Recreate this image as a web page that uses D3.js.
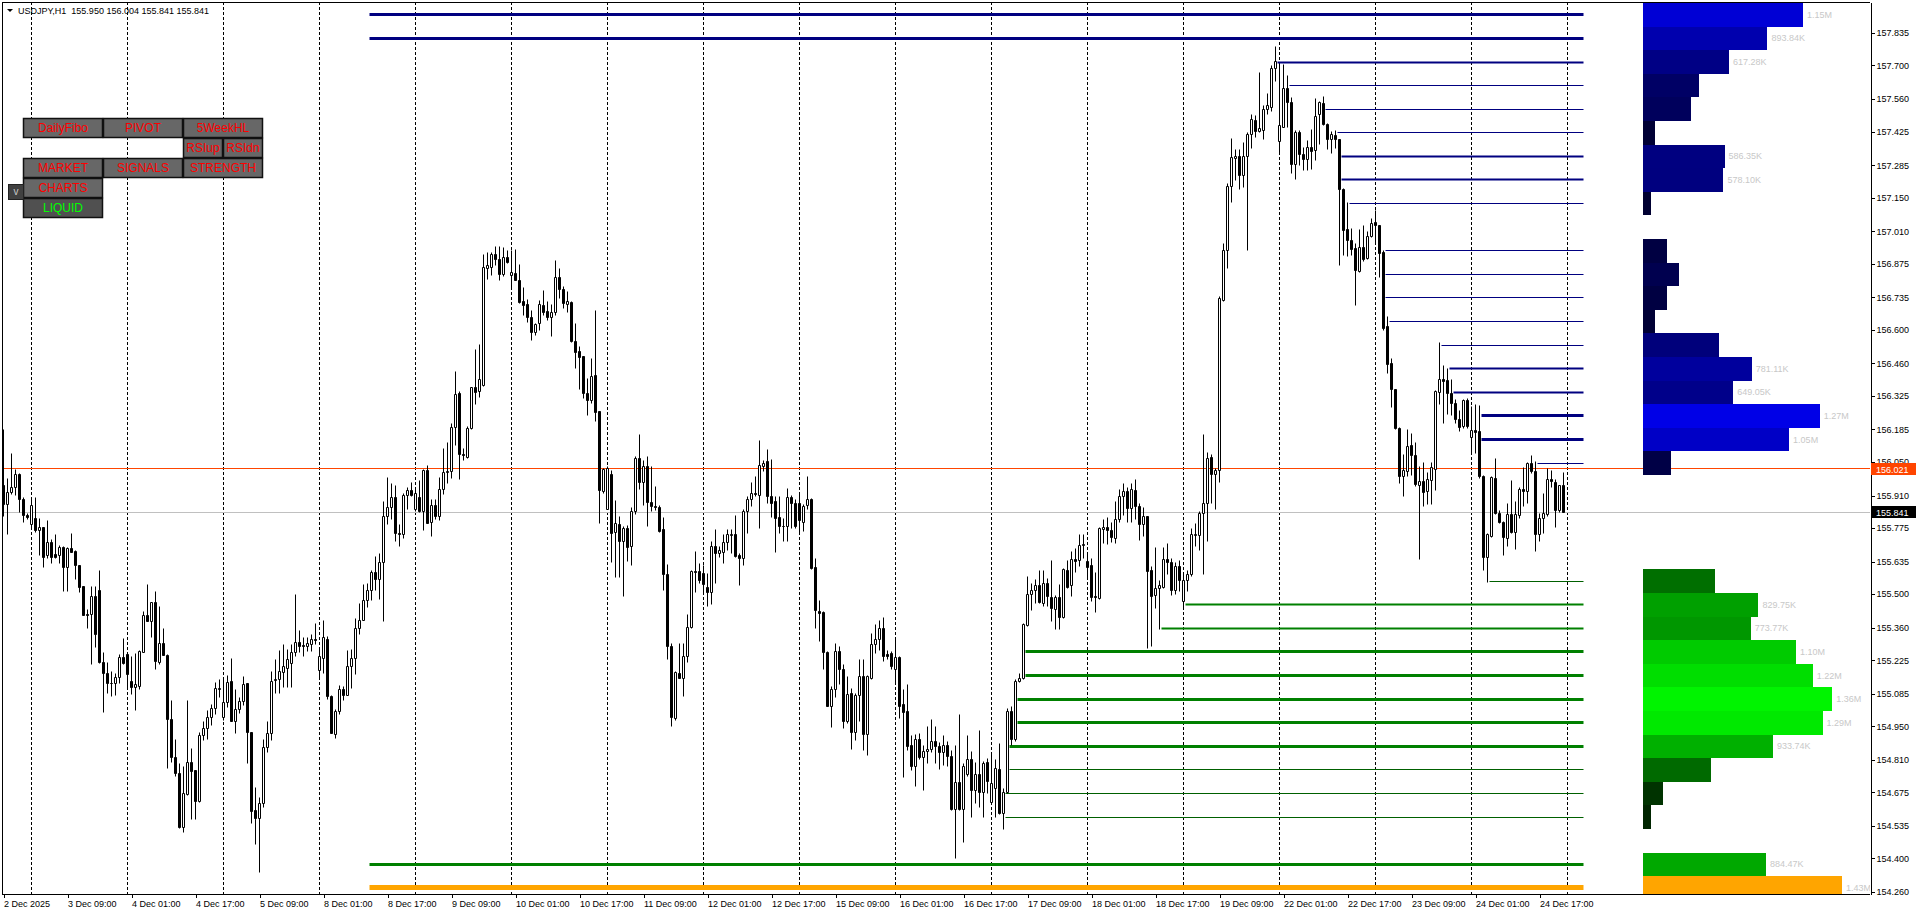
<!DOCTYPE html>
<html lang="en">
<head>
<meta charset="UTF-8">
<title>USDJPY,H1</title>
<script src="https://d3js.org/d3.v7.min.js"></script>
<style>
  body { margin: 0; background: #fff; }
  svg { display: block; font-family: "Liberation Sans", Arial, sans-serif; }
  .axis text { font-size: 9px; fill: #000; }
  .axis line, .axis path { stroke: #000; shape-rendering: crispEdges; }
</style>
</head>
<body>
<svg width="1916" height="915"></svg>
<script>
// ---- data ----
const symbol = "USDJPY", period = "H1";
const refPrice = 156.021;   // orange-red line
const bidPrice = 155.841;   // grey line (last close)

const priceTicks = [157.835, 157.700, 157.560, 157.425, 157.285, 157.150, 157.010, 156.875,
  156.735, 156.600, 156.460, 156.325, 156.185, 156.050, 155.910, 155.775, 155.635, 155.500,
  155.360, 155.225, 155.085, 154.950, 154.810, 154.675, 154.535, 154.400, 154.260];

const timeLabels = ["2 Dec 2025", "3 Dec 09:00", "4 Dec 01:00", "4 Dec 17:00", "5 Dec 09:00",
  "8 Dec 01:00", "8 Dec 17:00", "9 Dec 09:00", "10 Dec 01:00", "10 Dec 17:00", "11 Dec 09:00",
  "12 Dec 01:00", "12 Dec 17:00", "15 Dec 09:00", "16 Dec 01:00", "16 Dec 17:00", "17 Dec 09:00",
  "18 Dec 01:00", "18 Dec 17:00", "19 Dec 09:00", "22 Dec 01:00", "22 Dec 17:00", "23 Dec 09:00",
  "24 Dec 01:00", "24 Dec 17:00"];

// H1 bars [open, high, low, close], first bar 2 Dec 2025 17:00
const bars = [
[155.954,156.183,155.821,155.871],[155.871,155.979,155.746,155.921],[155.921,156.087,155.913,155.942],
[155.942,156.020,155.909,155.996],[155.996,156.003,155.838,155.892],[155.892,155.900,155.800,155.829],
[155.829,155.835,155.810,155.820],
// 3 Dec
[155.788,155.892,155.767,155.867],[155.813,155.904,155.758,155.763],[155.763,155.813,155.659,155.779],
[155.779,155.779,155.609,155.654],[155.659,155.808,155.650,155.713],[155.713,155.729,155.629,155.654],
[155.663,155.750,155.650,155.654],[155.659,155.704,155.629,155.696],[155.692,155.700,155.509,155.609],
[155.609,155.692,155.509,155.688],[155.688,155.754,155.675,155.675],[155.679,155.683,155.559,155.617],
[155.621,155.621,155.505,155.526],[155.530,155.530,155.409,155.413],[155.417,155.434,155.355,155.413],
[155.417,155.530,155.209,155.492],[155.492,155.530,155.276,155.330],[155.513,155.600,155.213,155.217],
[155.217,155.255,155.009,155.171],[155.171,155.217,155.088,155.130],[155.130,155.176,155.072,155.130],
[155.130,155.168,155.076,155.151],[155.151,155.247,155.126,155.238],[155.238,155.317,155.209,155.213],
// 4 Dec
[155.250,155.255,155.109,155.167],[155.138,155.242,155.084,155.113],[155.113,155.251,155.017,155.122],
[155.117,155.267,155.101,155.263],[155.259,155.426,155.255,155.413],[155.413,155.542,155.384,155.388],
[155.388,155.467,155.321,155.463],[155.463,155.509,155.188,155.221],[155.217,155.450,155.205,155.296],
[155.296,155.355,155.246,155.246],[155.246,155.250,154.776,154.980],[154.980,155.059,154.798,154.818],
[154.822,154.893,154.739,154.755],[154.755,154.797,154.526,154.530],[154.530,154.781,154.510,154.672],
[154.664,155.059,154.660,154.801],[154.801,154.859,154.560,154.760],[154.768,154.768,154.560,154.635],
[154.635,154.922,154.631,154.910],[154.910,154.968,154.889,154.940],[154.940,155.017,154.897,154.988],
[154.988,155.042,154.955,155.022],[155.022,155.134,154.997,155.109],[155.105,155.143,155.068,155.109],
// 5 Dec
[154.988,155.143,154.976,155.047],[155.047,155.163,155.030,155.134],[155.138,155.234,154.968,154.968],
[154.968,155.101,154.918,155.018],[155.018,155.068,155.005,155.055],[155.055,155.159,155.038,155.122],
[155.126,155.126,154.797,154.922],[154.922,154.922,154.547,154.597],[154.601,154.697,154.460,154.568],
[154.568,154.655,154.343,154.630],[154.630,154.893,154.610,154.860],[154.860,154.968,154.840,154.918],
[154.918,155.176,154.890,155.138],[155.140,155.226,155.085,155.145],[155.145,155.267,155.085,155.176],
[155.172,155.290,155.110,155.200],[155.190,155.270,155.113,155.226],[155.210,155.290,155.113,155.255],
[155.255,155.500,155.240,155.300],[155.300,155.350,155.255,155.284],[155.286,155.320,155.240,155.282],
[155.280,155.320,155.260,155.293],[155.290,155.330,155.260,155.310],[155.310,155.378,155.290,155.308],
// 8 Dec
[155.184,155.270,155.155,155.240],[155.230,155.390,155.170,155.320],[155.313,155.325,155.060,155.075],
[155.075,155.080,154.918,154.920],[154.914,155.018,154.900,155.010],[155.010,155.120,155.000,155.105],
[155.105,155.115,155.057,155.080],[155.080,155.267,155.076,155.200],[155.200,155.270,155.106,155.230],
[155.230,155.397,155.167,155.355],[155.355,155.460,155.330,155.390],[155.390,155.540,155.390,155.475],
[155.475,155.544,155.443,155.517],[155.517,155.600,155.475,155.588],[155.588,155.658,155.513,155.560],
[155.560,155.667,155.477,155.630],[155.630,155.885,155.386,155.825],[155.825,155.985,155.790,155.860],
[155.860,155.960,155.810,155.900],[155.900,155.950,155.720,155.754],[155.754,155.790,155.700,155.750],
[155.750,155.920,155.730,155.912],[155.912,155.943,155.850,155.933],[155.933,155.965,155.908,155.912],
// 9 Dec
[155.850,155.943,155.845,155.917],[155.900,155.973,155.838,155.845],[155.845,156.020,155.763,156.013],
[156.013,156.037,155.792,155.792],[155.798,155.895,155.740,155.868],[155.868,155.895,155.810,155.825],
[155.825,155.985,155.806,155.937],[155.937,156.107,155.915,156.008],[156.008,156.130,155.960,156.010],
[156.010,156.210,155.980,156.192],[156.192,156.428,156.118,156.332],[156.335,156.345,155.975,156.079],
[156.079,156.107,156.055,156.075],[156.069,156.196,156.066,156.190],[156.190,156.358,156.183,156.358],
[156.358,156.516,156.288,156.340],[156.345,156.539,156.318,156.393],[156.370,156.914,156.363,156.860],
[156.854,156.920,156.808,156.866],[156.858,156.920,156.826,156.914],[156.914,156.945,156.866,156.892],
[156.892,156.948,156.805,156.831],[156.831,156.941,156.822,156.900],[156.899,156.930,156.875,156.878],
// 10 Dec
[156.826,156.930,156.774,156.840],[156.836,156.936,156.805,156.805],[156.805,156.872,156.708,156.714],
[156.717,156.774,156.660,156.703],[156.707,156.726,156.630,156.650],[156.650,156.682,156.554,156.587],
[156.587,156.627,156.578,156.622],[156.627,156.720,156.596,156.706],[156.703,156.765,156.661,156.671],
[156.675,156.716,156.640,156.650],[156.650,156.706,156.574,156.673],[156.673,156.890,156.661,156.818],
[156.818,156.856,156.731,156.768],[156.768,156.779,156.690,156.710],[156.707,156.758,156.670,156.717],
[156.714,156.717,156.546,156.550],[156.553,156.627,156.440,156.504],[156.509,156.532,156.350,156.485],
[156.488,156.490,156.315,156.333],[156.335,156.398,156.245,156.305],[156.305,156.480,156.294,156.405],
[156.408,156.679,156.217,156.255],[156.258,156.258,155.795,155.930],[155.926,156.023,155.920,156.019],
// 11 Dec
[155.853,156.030,155.850,156.023],[155.996,156.016,155.630,155.753],[155.755,155.888,155.570,155.794],
[155.790,155.825,155.570,155.718],[155.718,155.783,155.490,155.774],[155.774,155.787,155.635,155.695],
[155.697,155.860,155.617,155.843],[155.843,156.072,155.833,156.065],[156.065,156.166,155.936,155.963],
[155.963,156.058,155.867,156.030],[156.033,156.072,155.780,155.880],[155.882,156.030,155.843,155.864],
[155.864,155.947,155.847,155.862],[155.862,155.867,155.755,155.762],[155.767,155.820,155.517,155.582],
[155.582,155.625,155.229,155.281],[155.284,155.295,154.948,154.986],[154.983,155.180,154.976,155.174],
[155.170,155.293,155.150,155.150],[155.150,155.295,155.073,155.242],[155.240,155.417,155.214,155.362],
[155.362,155.600,155.358,155.596],[155.596,155.676,155.506,155.589],[155.593,155.628,155.545,155.558],
// 12 Dec
[155.586,155.617,155.503,155.538],[155.526,155.586,155.450,155.505],[155.505,155.718,155.455,155.700],
[155.700,155.770,155.545,155.670],[155.670,155.697,155.653,155.680],[155.672,155.749,155.628,155.714],
[155.714,155.767,155.683,155.746],[155.745,155.767,155.670,155.746],[155.746,155.829,155.653,155.656],
[155.659,155.670,155.534,155.649],[155.649,155.850,155.617,155.843],[155.843,155.908,155.753,155.892],
[155.892,155.963,155.864,155.917],[155.917,155.991,155.908,155.915],[155.912,156.138,155.774,156.037],
[156.033,156.058,156.010,156.044],[156.051,156.102,155.878,155.905],[155.905,156.061,155.820,155.878],
[155.884,155.905,155.672,155.815],[155.820,155.905,155.753,155.780],[155.783,155.815,155.718,155.783],
[155.783,155.940,155.718,155.903],[155.903,155.912,155.774,155.878],[155.878,155.894,155.774,155.780],
// 15 Dec
[155.875,155.922,155.750,155.805],[155.797,155.871,155.760,155.864],[155.867,155.991,155.850,155.894],
[155.894,155.898,155.603,155.607],[155.611,155.649,155.358,155.431],[155.427,155.475,155.302,155.420],
[155.422,155.427,155.187,155.256],[155.258,155.260,155.031,155.034],[155.034,155.115,154.946,155.101],
[155.101,155.295,155.070,155.260],[155.260,155.281,155.122,155.187],[155.187,155.205,154.942,154.969],
[154.969,155.156,154.962,155.083],[155.087,155.108,154.854,154.923],[154.923,155.087,154.890,155.080],
[155.080,155.226,154.969,155.156],[155.156,155.226,154.851,154.914],[154.914,155.163,154.830,155.156],
[155.150,155.337,155.146,155.292],[155.292,155.372,155.253,155.312],[155.310,155.392,155.267,155.358],
[155.358,155.403,155.219,155.240],[155.249,155.267,155.226,155.242],[155.254,155.260,155.187,155.200],
// 16 Dec
[155.187,155.316,155.131,155.237],[155.237,155.242,154.983,155.034],[155.039,155.104,154.738,155.007],
[155.011,155.122,154.851,154.865],[154.868,154.910,154.765,154.782],[154.782,154.914,154.701,154.896],
[154.896,154.921,154.813,154.821],[154.821,154.868,154.682,154.844],[154.844,154.951,154.793,154.854],
[154.854,154.979,154.840,154.886],[154.886,154.948,154.796,154.865],[154.865,154.882,154.771,154.840],
[154.840,154.910,154.785,154.872],[154.872,154.886,154.782,154.823],[154.823,154.851,154.601,154.605],
[154.605,154.872,154.401,154.715],[154.715,155.001,154.599,154.602],[154.602,154.796,154.465,154.782],
[154.751,154.910,154.743,154.813],[154.813,154.844,154.571,154.682],[154.682,154.798,154.629,154.751],
[154.751,154.934,154.613,154.674],[154.674,154.803,154.571,154.796],[154.798,154.817,154.671,154.719],
// 17 Dec
[154.632,154.838,154.629,154.713],[154.692,154.813,154.571,154.775],[154.771,154.879,154.581,154.588],
[154.588,154.692,154.522,154.674],[154.674,155.025,154.671,155.011],[155.011,155.031,154.868,154.893],
[154.893,155.143,154.886,155.136],[155.136,155.170,155.132,155.150],[155.150,155.378,155.146,155.372],
[155.368,155.572,155.364,155.500],[155.500,155.545,155.431,155.517],[155.514,155.561,155.459,155.534],
[155.534,155.600,155.459,155.464],[155.459,155.597,155.450,155.545],[155.545,155.566,155.450,155.489],
[155.487,155.640,155.388,155.439],[155.436,155.495,155.354,155.487],[155.487,155.540,155.354,155.402],
[155.402,155.605,155.398,155.602],[155.597,155.640,155.524,155.529],[155.534,155.677,155.490,155.643],
[155.643,155.690,155.588,155.637],[155.640,155.750,155.614,155.702],[155.701,155.750,155.648,155.706],
// 18 Dec
[155.634,155.665,155.571,155.609],[155.617,155.648,155.470,155.487],[155.490,155.588,155.422,155.485],
[155.481,155.779,155.478,155.772],[155.768,155.812,155.710,155.779],[155.779,155.817,155.707,155.765],
[155.765,155.800,155.716,155.737],[155.733,155.886,155.710,155.812],[155.812,155.937,155.800,155.908],
[155.908,155.962,155.826,155.925],[155.925,155.945,155.800,155.857],[155.857,155.962,155.800,155.937],
[155.932,155.976,155.809,155.864],[155.864,155.877,155.724,155.789],[155.789,155.860,155.741,155.823],
[155.821,155.823,155.274,155.592],[155.597,155.614,155.283,155.490],[155.495,155.693,155.439,155.524],
[155.524,155.555,155.354,155.534],[155.529,155.693,155.524,155.643],[155.643,155.711,155.580,155.631],
[155.631,155.648,155.495,155.517],[155.517,155.631,155.500,155.614],[155.614,155.640,155.512,155.558],
// 19 Dec
[155.470,155.588,155.436,155.555],[155.555,155.597,155.512,155.580],[155.580,155.775,155.575,155.750],
[155.742,155.792,155.699,155.750],[155.742,155.843,155.682,155.834],[155.834,156.166,155.580,155.877],
[155.877,156.090,155.720,156.064],[156.067,156.081,155.877,155.996],[155.996,156.021,155.852,156.016],
[156.016,156.740,155.966,156.730],[156.723,156.960,156.718,156.930],[156.930,157.210,156.854,157.198],
[157.198,157.397,157.131,157.317],[157.313,157.351,157.222,157.322],[157.322,157.351,157.182,157.240],
[157.240,157.380,157.194,157.322],[157.321,157.423,156.930,157.414],[157.414,157.494,157.355,157.473],
[157.470,157.490,157.402,157.426],[157.426,157.669,157.423,157.436],[157.431,157.533,157.392,157.516],
[157.516,157.584,157.494,157.533],[157.524,157.698,157.508,157.686],[157.686,157.779,157.635,157.715],
// 22 Dec
[157.385,157.703,157.334,157.448],[157.443,157.703,157.440,157.606],[157.606,157.657,157.440,157.545],
[157.545,157.567,157.250,157.287],[157.287,157.431,157.227,157.419],[157.419,157.431,157.284,157.329],
[157.329,157.358,157.261,157.307],[157.307,157.389,157.261,157.358],[157.359,157.434,157.265,157.341],
[157.345,157.563,157.306,157.489],[157.494,157.549,157.369,157.545],[157.542,157.570,157.452,157.456],
[157.456,157.459,157.350,157.392],[157.392,157.424,157.334,157.414],[157.410,157.428,157.355,157.392],
[157.392,157.392,156.869,157.184],[157.184,157.188,156.911,157.012],[157.018,157.130,156.904,156.970],
[156.973,157.022,156.911,156.935],[156.939,156.957,156.699,156.846],[156.842,157.018,156.837,156.943],
[156.943,157.032,156.883,156.893],[156.897,157.008,156.893,156.990],[156.987,157.064,156.985,157.043],
// 23 Dec
[157.045,157.098,156.957,157.036],[157.032,157.036,156.818,156.918],[156.920,156.929,156.599,156.606],
[156.615,156.654,156.419,156.457],[156.460,156.481,156.277,156.352],[156.352,156.352,156.186,156.190],
[156.190,156.194,155.961,155.991],[155.991,156.079,155.908,156.013],[156.009,156.186,155.991,156.116],
[156.120,156.169,155.995,156.075],[156.075,156.130,155.947,155.958],[155.954,156.033,155.645,155.968],
[155.968,156.047,155.864,155.922],[155.926,156.005,155.871,155.975],[155.972,156.047,155.871,156.028],
[156.019,156.346,155.933,156.342],[156.338,156.546,156.287,156.394],[156.394,156.453,156.208,156.384],
[156.388,156.440,156.249,156.336],[156.336,156.391,156.245,156.294],[156.294,156.311,156.208,156.227],
[156.227,156.266,156.176,156.194],[156.197,156.311,156.190,156.305],[156.305,156.315,156.190,156.197],
// 24 Dec
[156.153,156.280,156.088,156.180],[156.180,156.287,156.086,156.172],[156.176,156.283,155.982,155.988],
[155.991,155.995,155.600,155.653],[155.653,155.753,155.547,155.746],[155.739,155.988,155.736,155.986],
[155.982,156.065,155.833,155.836],[155.836,155.847,155.794,155.797],[155.797,155.801,155.659,155.736],
[155.733,155.875,155.700,155.833],[155.833,155.972,155.753,155.755],[155.755,155.884,155.686,155.833],
[155.829,155.944,155.815,155.936],[155.936,156.028,155.864,155.926],[155.926,156.047,155.878,156.044],
[156.044,156.075,156.002,156.009],[156.009,156.050,155.677,155.746],[155.750,155.836,155.718,155.815],
[155.815,155.919,155.753,155.836],[155.833,156.023,155.825,155.975],[155.975,156.016,155.945,155.970],
[155.964,155.975,155.778,155.847],[155.847,155.954,155.839,155.950],[155.950,156.004,155.841,155.841]
];

// volume profile: bins of 0.0982 from 158.058 downwards, volume in thousands
const profileHigh = 158.058, profileStep = 0.0982;
const profileVol = [1180, 1150, 893.84, 617.28, 404, 347, 87, 586.35, 578.10, 58,
  0, 173, 260, 173, 87, 549, 781.11, 649.05, 1270, 1050,
  202, 0, 0, 0, 0, 520, 829.75, 773.77, 1100, 1220,
  1360, 1290, 933.74, 491, 144, 58, 0, 884.47, 1430];
const profileFromBar = 91;   // first bar of the profile window

// ---- layout ----
const W = 1916, H = 915;
const plot = {left: 2, top: 2, right: 1870, bottom: 894};
const profileLeft = 1643, profileMaxW = 199;

const svg = d3.select("svg");

// bar times, hourly, Mon-Fri
const times = [];
let t = new Date(2025, 11, 2, 17);
function nextHour(d) {
  let n = new Date(d.getTime() + 3600e3);
  while (n.getDay() === 0 || n.getDay() === 6) n = new Date(n.getTime() + 3600e3);
  return n;
}
for (let i = 0; i < bars.length; i++) { times.push(t); t = nextHour(t); }

const x = d3.scaleLinear().domain([0, bars.length - 1]).range([3.5, 3.5 + 4 * (bars.length - 1)]);
const y = d3.scaleLinear().domain([154.252, 157.964]).range([plot.bottom, plot.top]);
const snap = v => Math.round(v - 0.5) + 0.5;

svg.append("defs").append("clipPath").attr("id", "plotClip")
  .append("rect").attr("x", plot.left).attr("y", plot.top)
  .attr("width", plot.right - plot.left).attr("height", plot.bottom - plot.top);

const g = svg.append("g").attr("clip-path", "url(#plotClip)");

// day separators (first bar of each day, plus the coming day)
const seps = [];
times.forEach((d, i) => { if (d.getHours() === 0) seps.push(i); });
if (nextHour(times[times.length - 1]).getHours() === 0) seps.push(bars.length);
g.selectAll(".sep").data(seps).enter().append("line")
  .attr("x1", d => x(d)).attr("x2", d => x(d))
  .attr("y1", plot.top).attr("y2", plot.bottom)
  .attr("stroke", "#000").attr("stroke-dasharray", "3,2")
  .attr("shape-rendering", "crispEdges");

// price lines
g.append("line").attr("x1", plot.left).attr("x2", plot.right)
  .attr("y1", snap(y(bidPrice))).attr("y2", snap(y(bidPrice)))
  .attr("stroke", "#c0c0c0");
g.append("line").attr("x1", plot.left).attr("x2", plot.right)
  .attr("y1", snap(y(refPrice))).attr("y2", snap(y(refPrice)))
  .attr("stroke", "#ff4500");

// volume profile bins
const maxV = d3.max(profileVol);
const poc = profileVol.indexOf(maxV);
const wScale = d3.scaleLinear().domain([0, maxV]).range([0, profileMaxW]);
const blue = d3.scaleLinear().domain([0, maxV]).range(["#000028", "#0000ff"]);
const green = d3.scaleLinear().domain([0, maxV]).range(["#001c00", "#00ff00"]);
const bins = profileVol.map((v, b) => {
  const top = profileHigh - b * profileStep;
  const mid = top - profileStep / 2;
  return {b, v, top, bot: top - profileStep, mid, above: mid > refPrice};
}).filter(d => d.v > 0);

// levels: start where price last traded through the bin centre (inside the profile window)
const levelEndX = x(bars.length - 1) + 20;
bins.forEach(d => {
  let k = profileFromBar;
  for (let i = bars.length - 1; i >= profileFromBar; i--) {
    if (bars[i][2] <= d.mid && bars[i][1] >= d.mid) { k = i; break; }
  }
  d.start = k;
});
g.selectAll(".lvl").data(bins).enter().append("line")
  .attr("x1", d => x(d.start) + 2).attr("x2", levelEndX)
  .attr("y1", d => snap(y(d.mid))).attr("y2", d => snap(y(d.mid)))
  .attr("stroke", d => d.b === poc ? "#ffa500" : d.above ? "#000080" : (d.v >= 560 ? "#008000" : "#006000"))
  .attr("stroke-width", d => d.b === poc ? 5 : d.v >= 850 ? 3 : d.v >= 560 ? 2 : 1);

g.selectAll(".bin").data(bins).enter().append("rect")
  .attr("x", profileLeft)
  .attr("y", d => y(d.top))
  .attr("width", d => wScale(d.v))
  .attr("height", d => y(d.bot) - y(d.top))
  .attr("fill", d => d.b === poc ? "#ffa500" : d.above ? blue(d.v) : green(d.v))
  .attr("shape-rendering", "crispEdges");

const fmtVol = v => v >= 1000 ? (v / 1000).toFixed(2) + "M" : v.toFixed(2) + "K";
const [lo, hi] = y.domain();
g.selectAll(".binLabel").data(bins.filter(d => d.v >= 560 && d.mid < hi && d.mid > lo)).enter().append("text")
  .attr("x", d => profileLeft + wScale(d.v) + 4)
  .attr("y", d => y(d.mid) + 3)
  .attr("font-size", 9).attr("fill", "#c8c8c8")
  .text(d => fmtVol(d.v));

// candles
const candle = g.selectAll(".bar").data(bars).enter().append("g");
candle.append("line")
  .attr("x1", (d, i) => x(i)).attr("x2", (d, i) => x(i))
  .attr("y1", d => snap(y(d[1]))).attr("y2", d => snap(y(d[2])))
  .attr("stroke", "#000");
candle.append("path")
  .attr("d", (d, i) => {
    const cx = x(i);
    const y0 = snap(y(Math.max(d[0], d[3]))), y1 = snap(y(Math.min(d[0], d[3])));
    return `M${cx - 1},${y0}H${cx + 1}V${y1}H${cx - 1}Z`;
  })
  .attr("fill", d => d[3] >= d[0] ? "#fff" : "#000")
  .attr("stroke", "#000");

// frame
svg.append("line").attr("x1", plot.left).attr("x2", plot.right).attr("y1", 2.5).attr("y2", 2.5).attr("stroke", "#000");
svg.append("line").attr("x1", 2.5).attr("x2", 2.5).attr("y1", plot.top).attr("y2", plot.bottom).attr("stroke", "#000");
svg.append("line").attr("x1", plot.left).attr("x2", plot.right).attr("y1", plot.bottom + 0.5).attr("y2", plot.bottom + 0.5).attr("stroke", "#000");

// price axis
svg.append("g").attr("class", "axis").attr("transform", `translate(${plot.right + 0.5},0)`)
  .call(d3.axisRight(y).tickValues(priceTicks).tickFormat(d3.format(".3f"))
    .tickSize(4).tickSizeOuter(0).tickPadding(2));

// time axis
const fmtT = d3.timeFormat("%-d %b %H:%M");
const labelIdx = timeLabels.map((s, i) => i === 0 ? 0 : times.findIndex(d => fmtT(d) === s));
const xAxis = svg.append("g").attr("class", "axis").attr("transform", `translate(0,${plot.bottom + 0.5})`)
  .call(d3.axisBottom(x).tickValues(labelIdx).tickFormat((d, i) => timeLabels[i])
    .tickSize(3).tickSizeOuter(0));
xAxis.select(".domain").remove();
xAxis.selectAll("text").attr("text-anchor", "start").attr("x", 0);

// current price boxes
[[refPrice, "#ff4500"], [bidPrice, "#000"]].forEach(([p, c]) => {
  const yy = Math.round(y(p));
  svg.append("rect").attr("x", plot.right + 1).attr("y", yy - 6).attr("width", W - plot.right - 1)
    .attr("height", 12).attr("fill", c);
  svg.append("text").attr("x", plot.right + 6).attr("y", yy + 3.5).attr("font-size", 9)
    .attr("fill", "#fff").text(d3.format(".3f")(p));
});

// header
const last = bars[bars.length - 1];
svg.append("path").attr("d", "M7,9H13L10,12Z").attr("fill", "#000");
svg.append("text").attr("x", 18).attr("y", 14).attr("font-size", 9).style("white-space", "pre")
  .text(`${symbol},${period}  ${last.map(d3.format(".3f")).join(" ")}`);

// indicator buttons
const buttons = [
  {t: "DailyFibo", c: 0, r: 0}, {t: "PIVOT", c: 1, r: 0}, {t: "5WeekHL", c: 2, r: 0},
  {t: "RSIup", c: 2, r: 1, half: 0}, {t: "RSIdn", c: 2, r: 1, half: 1},
  {t: "MARKET", c: 0, r: 2}, {t: "SIGNALS", c: 1, r: 2}, {t: "STRENGTH", c: 2, r: 2},
  {t: "CHARTS", c: 0, r: 3}, {t: "LIQUID", c: 0, r: 4, on: true}
];
const bw = 80, bh = 20, bx0 = 23, by0 = 118;
const btn = svg.selectAll(".btn").data(buttons).enter().append("g")
  .attr("transform", d => `translate(${bx0 + d.c * bw + (d.half ? bw / 2 : 0)},${by0 + d.r * bh})`);
btn.append("rect").attr("x", 0.5).attr("y", 0.5)
  .attr("width", d => (d.half !== undefined ? bw / 2 : bw) - 1).attr("height", bh - 1)
  .attr("fill", d => d.on ? "#505050" : "#676767").attr("stroke", "#111").attr("stroke-width", 1.5);
btn.append("text").attr("x", d => (d.half !== undefined ? bw / 2 : bw) / 2).attr("y", 14)
  .attr("text-anchor", "middle").attr("font-size", 12)
  .attr("fill", d => d.on ? "#00ff00" : "#ff0000").text(d => d.t);
svg.append("rect").attr("x", 8.5).attr("y", 184.5).attr("width", 15).attr("height", 15)
  .attr("fill", "#404040").attr("stroke", "#222");
svg.append("text").attr("x", 16).attr("y", 195).attr("text-anchor", "middle")
  .attr("font-size", 10).attr("fill", "#c8c8c8").text("v");
</script>
</body>
</html>
